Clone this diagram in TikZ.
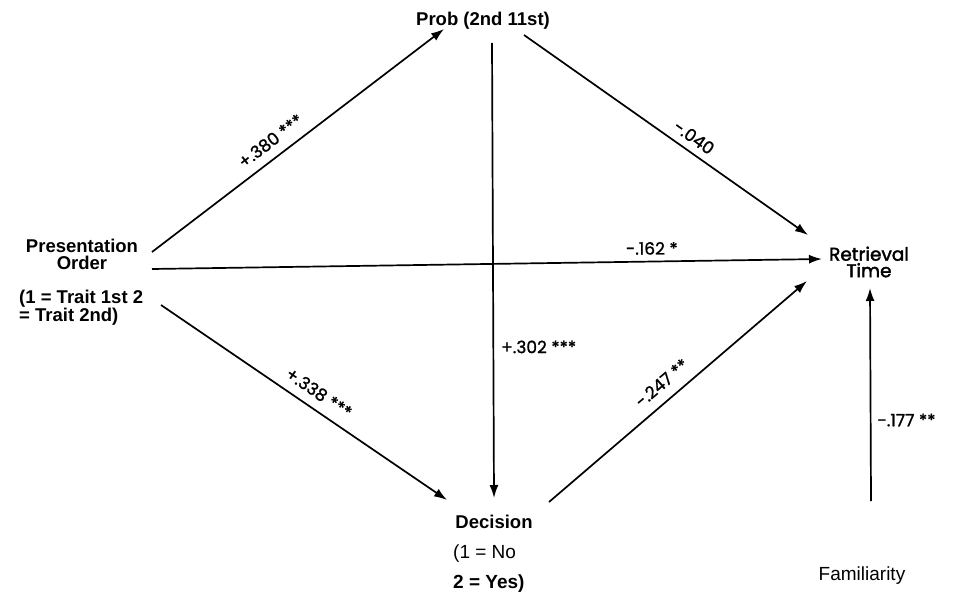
\documentclass[tikz,border=0pt]{standalone}
\usepackage{fontspec}
\setmainfont{Liberation Sans}
\newfontfamily\gothic{Poppins}[FakeBold=1.2]
\newfontfamily\gothicbold{Poppins}[FakeBold=2]
\usetikzlibrary{arrows.meta}
\begin{document}
\begin{tikzpicture}[x=1pt,y=-1pt,
  conn/.style={line width=1.7pt, -{Latex[length=13pt,width=9pt]}},
  lbl/.style={font=\gothic\fontsize{17}{17}\selectfont, inner sep=0pt},
  varname/.style={font=\bfseries\fontsize{18.5}{17}\selectfont, inner sep=0pt},
  plain/.style={font=\fontsize{19}{19}\selectfont, inner sep=0pt},
]
\fill[white] (0,0) rectangle (957,591);
\useasboundingbox (0,0) rectangle (957,591);

% nodes
\node[varname] (prob) at (483,21) {Prob (2nd 11st)};
\node[varname, align=center] (pres) at (82,254) {Presentation\\Order};
\node[varname, align=left, anchor=west] (pcode) at (19,308) {(1 = Trait 1st 2\\= Trait 2nd)};
\node[font=\gothicbold\fontsize{18.5}{16.5}\selectfont, align=center, inner sep=0pt] (ret) at (869,262) {Retrieval\\Time};
\node[varname, anchor=base] (dec) at (494,528) {Decision};
\node[plain, anchor=base west] (dec1) at (453,558) {(1 = No};
\node[plain, anchor=base west] (dec2) at (453,588) {\bfseries 2 = Yes)};
\node[plain, anchor=base] (fam) at (862,580) {Familiarity};

% connectors
\draw[conn] ([shift={(70,-2)}]pres.center) -- ([shift={(-39,8)}]prob.center)
  node[lbl, pos=0.44, sloped, above=9pt] (l380) {+.380 ***};
\draw[conn] ([shift={(41,14)}]prob.center) -- ([shift={(-61,-27)}]ret.center)
  node[lbl, pos=0.57, sloped, above=7pt] (l040) {-.040};
\draw[conn] ([shift={(70,15)}]pres.center) -- ([shift={(-47,-3)}]ret.center)
  node[lbl, pos=0.746, above=6pt] (l162) {-.162 *};
\draw[conn] ([shift={(9,22)}]prob.center) -- ([shift={(0,-30)}]dec.base)
  node[lbl, pos=0.668, right=7pt] (l302) {+.302 ***};
\draw[conn] ([shift={(142,-3)}]pcode.west) -- ([shift={(-47,-28)}]dec.base)
  node[lbl, pos=0.52, sloped, above=9pt] (l338) {+.338 ***};
\draw[conn] ([shift={(55,-26)}]dec.base) -- ([shift={(-62,19)}]ret.center)
  node[lbl, pos=0.48, sloped, above=10pt] (l247) {-.247 **};
\coordinate (famtop) at ([shift={(9,-79)}]fam.base);
\draw[conn] (famtop) -- ([shift={(1,26)}]ret.center)
  node[lbl, pos=0.38, right=6pt] (l177) {-.177 **};
\end{tikzpicture}
\end{document}
